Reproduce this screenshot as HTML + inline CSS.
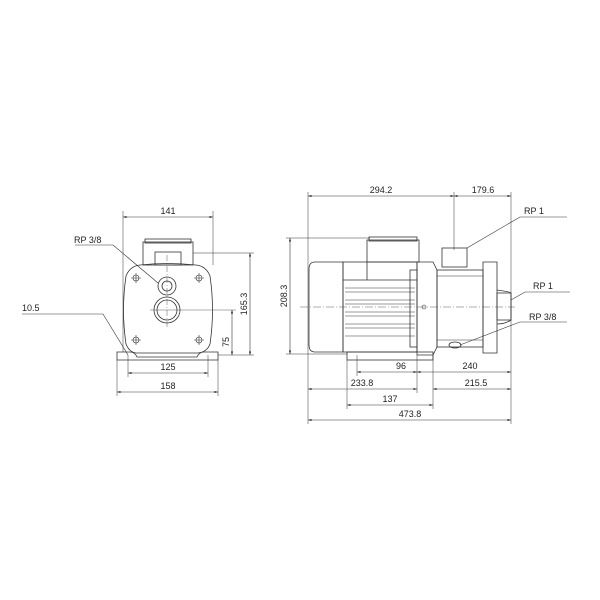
<!DOCTYPE html>
<html><head><style>body{margin:0;background:#fff}svg{display:block}text{font-family:"Liberation Sans",sans-serif;font-size:9px;fill:#222}</style></head><body>
<svg width="600" height="600" viewBox="0 0 600 600" xmlns="http://www.w3.org/2000/svg">
<defs><marker id="a" viewBox="0 0 10 10" refX="10" refY="5" markerWidth="6" markerHeight="6" orient="auto-start-reverse"><path d="M0,2L10,5L0,8z" fill="#222"/></marker></defs>
<g fill="none" stroke="#333" stroke-width="0.8">
<!-- LEFT VIEW -->
<line x1="123" y1="211" x2="123" y2="352" stroke-width="0.5"/>
<line x1="213" y1="211" x2="213" y2="265" stroke-width="0.5"/>
<line x1="123" y1="217" x2="213" y2="217" marker-start="url(#a)" marker-end="url(#a)" stroke-width="0.6"/>
<rect x="143" y="242" width="50" height="23"/>
<rect x="145" y="239" width="46" height="4"/>
<rect x="155" y="252" width="26" height="13"/>
<path d="M140,265 Q167,262 196,265 Q206,266 210,276 Q215,310 210,344 Q207,352 198,353 H136 Q129,352 126,344 Q121,310 126,276 Q130,266 140,265Z"/>
<circle cx="167" cy="286" r="9"/><circle cx="167" cy="286" r="5"/>
<circle cx="167" cy="310" r="13"/><circle cx="167" cy="310" r="10"/>
<path d="M117,360 V352 H130 Q135,352 137,357 H197 Q199,352 204,352 H218 V360 Z"/>
<g stroke-width="0.6"><circle cx="136" cy="278" r="3"/><circle cx="199" cy="278" r="3"/><circle cx="136" cy="340" r="3"/><circle cx="199" cy="340" r="3"/>
<path d="M131,278h10M136,273v10M194,278h10M199,273v10M131,340h10M136,335v10M194,340h10M199,335v10"/></g>
<line x1="167" y1="255" x2="167" y2="328" stroke-width="0.4" stroke-dasharray="6,2,1,2"/>
<line x1="150" y1="310" x2="236" y2="310" stroke-width="0.4"/>
<line x1="193" y1="253" x2="254" y2="253" stroke-width="0.5"/>
<line x1="218" y1="355" x2="254" y2="355" stroke-width="0.5"/>
<line x1="250" y1="253" x2="250" y2="355" marker-start="url(#a)" marker-end="url(#a)" stroke-width="0.6"/>
<line x1="232" y1="310" x2="232" y2="355" marker-start="url(#a)" marker-end="url(#a)" stroke-width="0.6"/>
<line x1="128" y1="355" x2="128" y2="377" stroke-width="0.5"/>
<line x1="208" y1="355" x2="208" y2="377" stroke-width="0.5"/>
<line x1="117" y1="360" x2="117" y2="396" stroke-width="0.5"/>
<line x1="218" y1="360" x2="218" y2="396" stroke-width="0.5"/>
<line x1="128" y1="373" x2="208" y2="373" marker-start="url(#a)" marker-end="url(#a)" stroke-width="0.6"/>
<line x1="117" y1="392" x2="218" y2="392" marker-start="url(#a)" marker-end="url(#a)" stroke-width="0.6"/>
<polyline points="22,314 103,314 128,355" stroke-width="0.6"/>
<polyline points="75,245 113,245 158,283" stroke-width="0.6"/>
<!-- RIGHT VIEW -->
<line x1="308" y1="192" x2="308" y2="424" stroke-width="0.5"/>
<line x1="511" y1="192" x2="511" y2="424" stroke-width="0.5"/>
<line x1="454" y1="192" x2="454" y2="250" stroke-width="0.5"/>
<line x1="308" y1="196" x2="454" y2="196" marker-start="url(#a)" marker-end="url(#a)" stroke-width="0.6"/>
<line x1="454" y1="196" x2="511" y2="196" marker-start="url(#a)" marker-end="url(#a)" stroke-width="0.6"/>
<line x1="286" y1="238" x2="370" y2="238" stroke-width="0.5"/>
<line x1="286" y1="354" x2="347" y2="354" stroke-width="0.5"/>
<line x1="290" y1="238" x2="290" y2="354" marker-start="url(#a)" marker-end="url(#a)" stroke-width="0.6"/>
<path d="M315,262 H343 V352 H315 Q309,352 309,345 V269 Q309,262 315,262Z"/>
<rect x="343" y="262" width="74" height="90"/>
<rect x="367" y="240" width="52" height="22"/>
<rect x="369" y="237" width="48" height="4"/>
<line x1="367" y1="262" x2="367" y2="280"/>
<line x1="343" y1="280" x2="417" y2="280"/>
<g stroke-width="0.6">
<line x1="345" y1="288" x2="415" y2="288"/><line x1="345" y1="292" x2="415" y2="292"/>
<line x1="345" y1="300" x2="415" y2="300"/><line x1="345" y1="304" x2="415" y2="304"/>
<line x1="345" y1="312" x2="415" y2="312"/><line x1="345" y1="316" x2="415" y2="316"/>
<line x1="345" y1="324" x2="415" y2="324"/><line x1="345" y1="328" x2="415" y2="328"/>
<line x1="345" y1="336" x2="415" y2="336"/>
</g>
<rect x="410" y="270" width="7" height="77"/>
<path d="M417,262 H433 L437,270 V347 L433,355 H417 Z"/>
<rect x="437" y="270" width="46" height="77"/>
<line x1="437" y1="276" x2="483" y2="276" stroke-width="0.5"/>
<line x1="437" y1="340" x2="483" y2="340" stroke-width="0.5"/>
<rect x="442" y="248" width="25" height="19"/>
<path d="M483,262 H497 V353 H483 Z"/>
<path d="M497,290 Q511,292 511,293 V320 Q505,324 497,324"/>
<rect x="497" y="293" width="14" height="27"/>
<ellipse cx="455" cy="345" rx="6" ry="3"/>
<circle cx="424" cy="307" r="2" stroke-width="0.6"/>
<rect x="347" y="352" width="86" height="8"/>
<line x1="300" y1="307" x2="515" y2="307" stroke-width="0.4" stroke-dasharray="8,2,1,2"/>
<line x1="347" y1="360" x2="347" y2="409" stroke-width="0.5"/>
<line x1="357" y1="355" x2="357" y2="376" stroke-width="0.5"/>
<line x1="417" y1="355" x2="417" y2="393" stroke-width="0.5"/>
<line x1="433" y1="355" x2="433" y2="409" stroke-width="0.5"/>
<line x1="357" y1="372" x2="417" y2="372" marker-start="url(#a)" marker-end="url(#a)" stroke-width="0.6"/>
<line x1="417" y1="372" x2="511" y2="372" marker-start="url(#a)" marker-end="url(#a)" stroke-width="0.6"/>
<line x1="308" y1="389" x2="417" y2="389" marker-start="url(#a)" marker-end="url(#a)" stroke-width="0.6"/>
<line x1="433" y1="389" x2="511" y2="389" marker-start="url(#a)" marker-end="url(#a)" stroke-width="0.6"/>
<line x1="347" y1="405" x2="433" y2="405" marker-start="url(#a)" marker-end="url(#a)" stroke-width="0.6"/>
<line x1="308" y1="420" x2="511" y2="420" marker-start="url(#a)" marker-end="url(#a)" stroke-width="0.6"/>
<polyline points="567,217 520,217 467,248" stroke-width="0.6"/>
<polyline points="570,292 525,292 511,300" stroke-width="0.6"/>
<polyline points="567,322 520,322 460,345" stroke-width="0.6"/>
</g>
<text x="168" y="214" text-anchor="middle">141</text>
<text x="74" y="243">RP 3/8</text>
<text x="22" y="311">10.5</text>
<text x="168" y="370" text-anchor="middle">125</text>
<text x="168" y="389" text-anchor="middle">158</text>
<text x="247" y="304" text-anchor="middle" transform="rotate(-90 247 304)">165.3</text>
<text x="229" y="342" text-anchor="middle" transform="rotate(-90 229 342)">75</text>
<text x="287" y="296" text-anchor="middle" transform="rotate(-90 287 296)">208.3</text>
<text x="381" y="193" text-anchor="middle">294.2</text>
<text x="483" y="193" text-anchor="middle">179.6</text>
<text x="524" y="214">RP 1</text>
<text x="533" y="289">RP 1</text>
<text x="529" y="320">RP 3/8</text>
<text x="401" y="369" text-anchor="middle">96</text>
<text x="470" y="369" text-anchor="middle">240</text>
<text x="362" y="386" text-anchor="middle">233.8</text>
<text x="476" y="386" text-anchor="middle">215.5</text>
<text x="390" y="402" text-anchor="middle">137</text>
<text x="410" y="417" text-anchor="middle">473.8</text>
</svg>
</body></html>
